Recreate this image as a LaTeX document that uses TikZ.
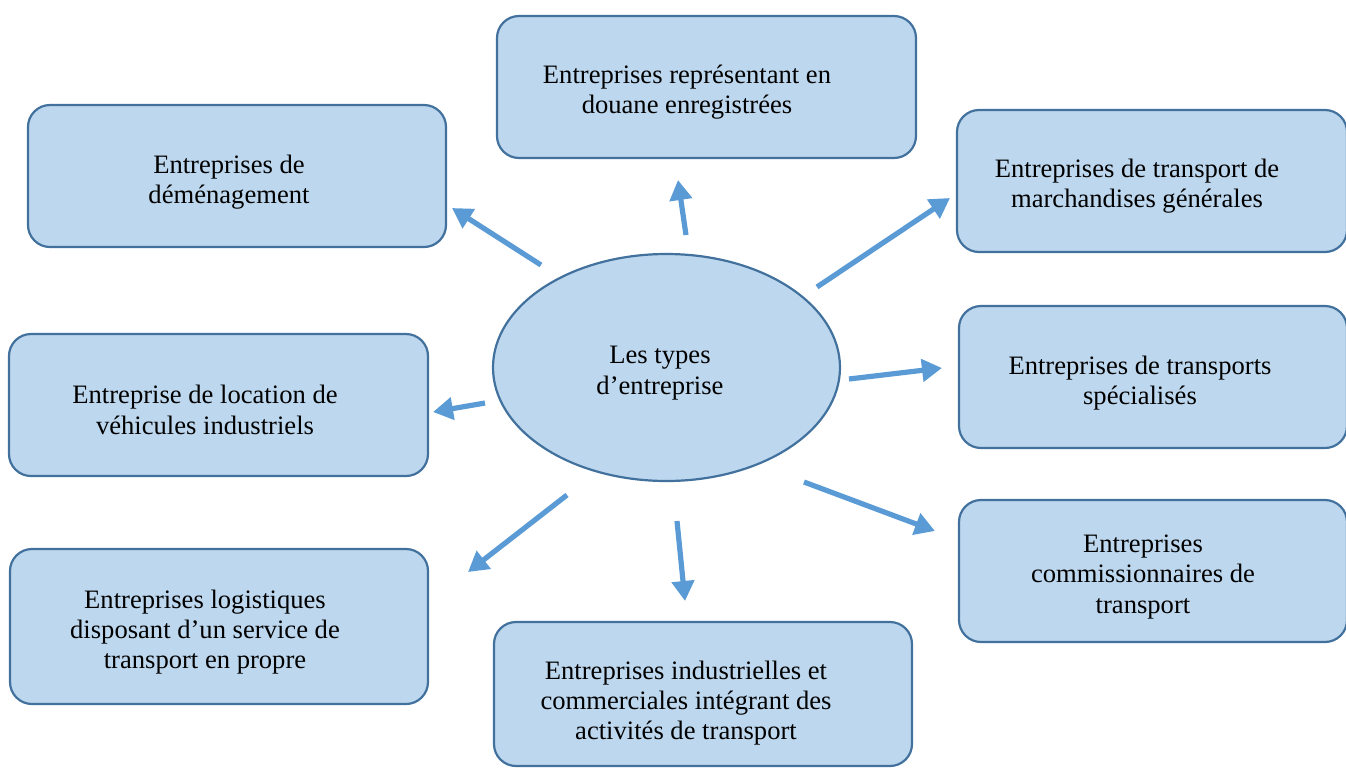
\documentclass[tikz,border=0pt]{standalone}
\usepackage{fontspec}
\setmainfont{Liberation Serif}
\usetikzlibrary{shapes,arrows.meta}
\definecolor{boxfill}{HTML}{BDD7EE}
\definecolor{boxline}{HTML}{41719C}
\definecolor{arrowblue}{HTML}{5B9BD5}
\tikzset{
  typebox/.style={draw=boxline,fill=boxfill,line width=1.1pt,rounded corners=11pt,inner sep=0pt},
  typetxt/.style={align=center,font=\fontsize{13.3}{15.2}\selectfont,inner sep=0pt},
  typearrow/.style={draw=arrowblue,line width=2.6pt,-{Triangle[length=10pt,width=11pt]}}
}
\begin{document}
\begin{tikzpicture}[x=0.5pt,y=-0.5pt]
    \useasboundingbox (0,0) rectangle (1346,767);
    % boxes
    \node[typebox,minimum width=209.5pt,minimum height=71pt] (douane) at (706.5,87) {};
    \node[typebox,minimum width=209pt,minimum height=71pt] (demenag) at (237,176) {};
    \node[typebox,minimum width=195pt,minimum height=71pt] (general) at (1152,181) {};
    \node[typebox,minimum width=194pt,minimum height=71pt] (special) at (1153,377) {};
    \node[typebox,minimum width=194pt,minimum height=71pt] (commis) at (1153,571) {};
    \node[typebox,minimum width=209.5pt,minimum height=71pt] (location) at (218.5,405) {};
    \node[typebox,minimum width=209pt,minimum height=77.5pt] (logist) at (219,626.5) {};
    \node[typebox,minimum width=209pt,minimum height=72pt] (indus) at (703,694) {};
    \node[ellipse,draw=boxline,fill=boxfill,line width=1.1pt,minimum width=173.5pt,minimum height=113.5pt] (types) at (666.5,367.5) {};
    % texts
    \node[typetxt] (douane-t) at (687,92) {Entreprises représentant en\\douane enregistrées};
    \node[typetxt] (demenag-t) at (229,182) {Entreprises de\\déménagement};
    \node[typetxt] (general-t) at (1137,186) {Entreprises de transport de\\marchandises générales};
    \node[typetxt] (special-t) at (1140,383) {Entreprises de transports\\spécialisés};
    \node[typetxt] (commis-t) at (1143,577) {Entreprises\\commissionnaires de\\transport};
    \node[typetxt] (location-t) at (205,410) {Entreprise de location de\\véhicules industriels};
    \node[typetxt] (logist-t) at (205,632) {Entreprises logistiques\\disposant d’un service de\\transport en propre};
    \node[typetxt] (indus-t) at (686,703) {Entreprises industrielles et\\commerciales intégrant des\\activités de transport};
    \node[typetxt] (types-t) at (660,373) {Les types\\d’entreprise};
    % arrows
    \coordinate (a1) at (541,265); \coordinate (b1) at (452,208);
    \coordinate (a2) at (686,235); \coordinate (b2) at (678,180);
    \coordinate (a3) at (817,287); \coordinate (b3) at (950,198);
    \coordinate (a4) at (849,379); \coordinate (b4) at (942,368);
    \coordinate (a5) at (804,482); \coordinate (b5) at (935,531);
    \coordinate (a6) at (677,521); \coordinate (b6) at (685,601);
    \coordinate (a7) at (567,495); \coordinate (b7) at (468,572);
    \coordinate (a8) at (485,403); \coordinate (b8) at (433,412);
    \foreach \i in {1,...,8}
      \draw[typearrow] (a\i) -- (b\i);
  \end{tikzpicture}
\end{document}
